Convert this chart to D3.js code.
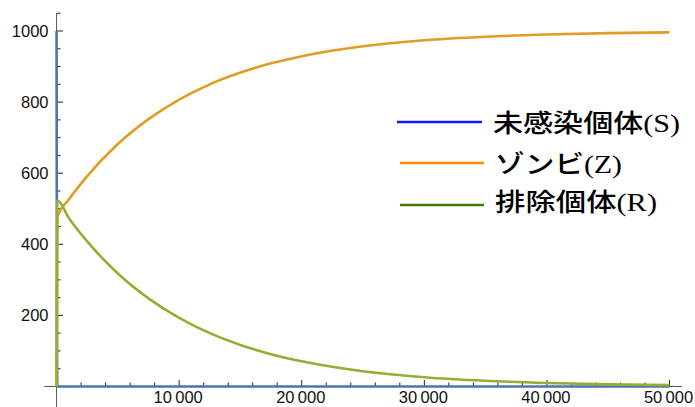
<!DOCTYPE html>
<html>
<head>
<meta charset="utf-8">
<script src="https://cdn.jsdelivr.net/npm/d3@7"></script>
<style>
  html, body { margin: 0; padding: 0; background: #fff; }
  svg { display: block; }
</style>
</head>
<body>
<svg id="chart" width="695" height="407"></svg>
<script>
// Zombie outbreak model: uninfected (S), zombies (Z), removed (R) over time
const times      = [0, 60, 1000, 2500, 5000, 7500, 10000, 12500, 15000, 17500, 20000, 25000, 30000, 35000, 40000, 45000, 50000];
const susceptible = [1000, 0, 0, 0, 0, 0, 0, 0, 0, 0, 0, 0, 0, 0, 0, 0, 0];
const zombies     = [0, 476, 526, 592, 682, 752, 807, 850, 883, 909, 929, 957, 974, 984, 990, 994, 996];
const removed     = [0, 524, 474, 408, 318, 248, 193, 150, 117, 91, 71, 43, 26, 16, 10, 6, 4];

const xMajorTicks = [10000, 20000, 30000, 40000, 50000];
const yMajorTicks = [200, 400, 600, 800, 1000];

const seriesNames  = ["未感染個体(S)", "ゾンビ(Z)", "排除個体(R)"];
const curveColors  = ["#4f73ad", "#E19C24", "#8FB032"];
const legendColors = ["#1414ff", "#ff8a0a", "#3f8000"];

const svg = d3.select("#chart");

const x = d3.scaleLinear().domain([-1000, 51000]).range([44.3, 681.8]);
const y = d3.scaleLinear().domain([0, 1000]).range([386.5, 31]);

const fmt = v => d3.format(",")(v).replace(/,/g, "\u2009");

// Axes drawn through the origin, underneath the curves
const axes = svg.append("g").attr("stroke", "#555");
axes.append("line")
  .attr("x1", x(-1000)).attr("x2", x(51000))
  .attr("y1", y(0)).attr("y2", y(0))
  .attr("stroke-width", 1);
axes.append("line")
  .attr("x1", x(0)).attr("x2", x(0))
  .attr("y1", y(1050)).attr("y2", 407)
  .attr("stroke-width", 1);

// x ticks: minor every 2000, major every 10000
d3.range(2000, 50001, 2000).forEach(v => {
  const major = xMajorTicks.includes(v);
  axes.append("line")
    .attr("x1", x(v)).attr("x2", x(v))
    .attr("y1", y(0)).attr("y2", y(0) - (major ? 6.5 : 4))
    .attr("stroke", "#222")
    .attr("stroke-width", 1);
});
// y ticks: minor every 50, major every 200
d3.range(50, 1051, 50).forEach(v => {
  const major = yMajorTicks.includes(v);
  axes.append("line")
    .attr("x1", x(0)).attr("x2", x(0) + (major ? 6.5 : 4))
    .attr("y1", y(v)).attr("y2", y(v))
    .attr("stroke", "#222")
    .attr("stroke-width", 1);
});

// Curves
const plot = svg.append("g");
const line = d3.line()
  .x((d, i) => x(times[i]))
  .y(d => y(d))
  .curve(d3.curveMonotoneX);

[susceptible, zombies, removed].forEach((vals, k) => {
  plot.append("path")
    .attr("d", line(vals))
    .attr("fill", "none")
    .attr("stroke", curveColors[k])
    .attr("stroke-width", 2.6)
    .attr("stroke-linejoin", "round");
});

const labels = svg.append("g")
  .attr("font-family", "'Liberation Sans', Arial, Helvetica, sans-serif")
  .attr("font-size", 16.5)
  .attr("fill", "#111");

xMajorTicks.forEach(v => {
  labels.append("text")
    .attr("x", x(v) - 1)
    .attr("y", 403)
    .attr("text-anchor", "middle")
    .text(fmt(v));
});
yMajorTicks.forEach(v => {
  labels.append("text")
    .attr("x", 48.5)
    .attr("y", y(v))
    .attr("dy", "0.36em")
    .attr("text-anchor", "end")
    .text(fmt(v).replace(/\u2009/g, ""));
});

// Legend
const legendRows = [
  { lx1: 397, lx2: 482, ly: 122, tx: 493, ty: 123, w: 187 },
  { lx1: 400, lx2: 484, ly: 163, tx: 495, ty: 164, w: 127 },
  { lx1: 400, lx2: 484, ly: 205, tx: 495, ty: 202, w: 162 }
];
const legend = svg.append("g");
legendRows.forEach((r, k) => {
  legend.append("line")
    .attr("x1", r.lx1).attr("x2", r.lx2)
    .attr("y1", r.ly).attr("y2", r.ly)
    .attr("stroke", legendColors[k])
    .attr("stroke-width", 2.6);
  legend.append("text")
    .attr("x", r.tx)
    .attr("y", r.ty)
    .attr("dominant-baseline", "central")
    .attr("font-family", "'Liberation Serif', 'Noto Sans CJK JP', serif")
    .attr("font-size", 25)
    .attr("font-weight", 500)
    .attr("fill", "#000")
    .attr("textLength", r.w)
    .attr("lengthAdjust", "spacingAndGlyphs")
    .text(seriesNames[k]);
});
</script>
</body>
</html>
